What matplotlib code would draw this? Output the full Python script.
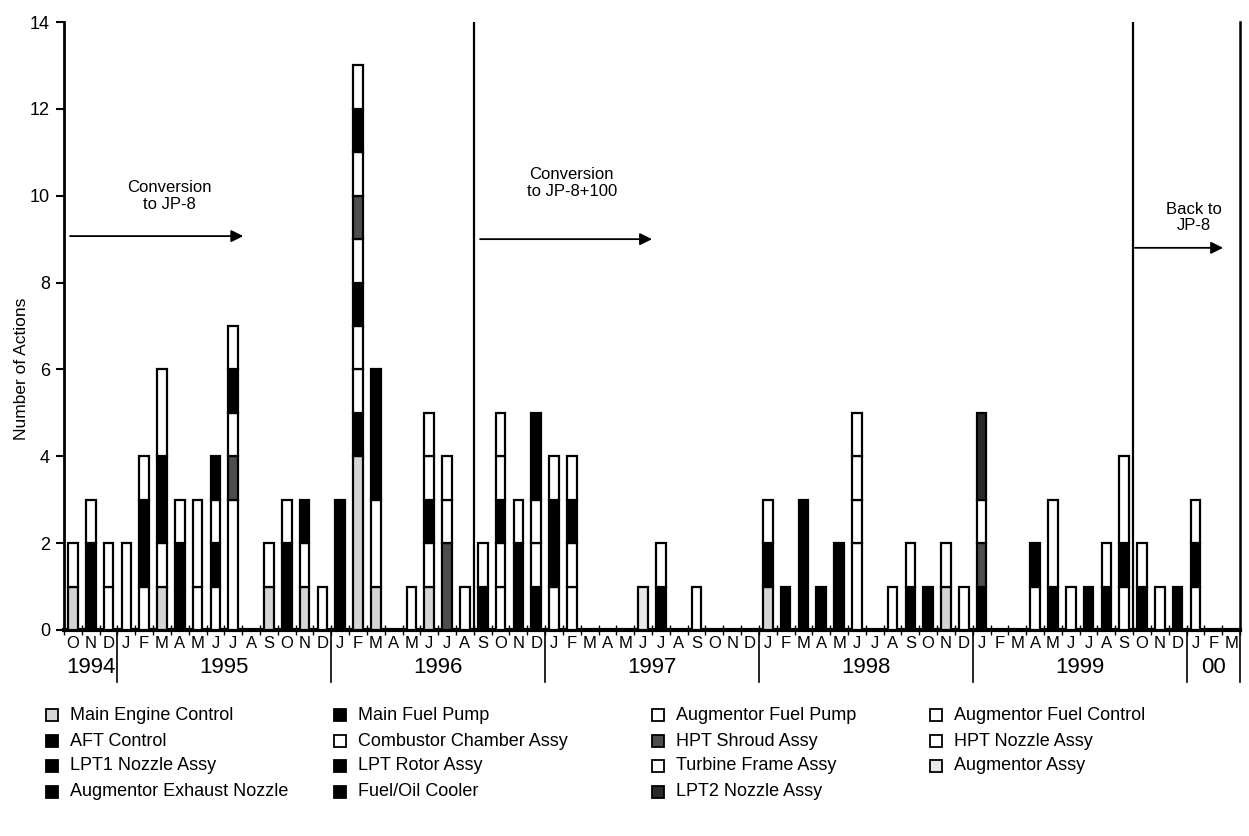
import matplotlib
matplotlib.use("Agg")
import matplotlib.pyplot as plt
from matplotlib.patches import Rectangle
import numpy as np

plt.rcParams['font.family'] = ['Liberation Sans', 'DejaVu Sans']

# ---- data: monthly counts, Oct 1994 .. Mar 2000 (66 months) ----
month_letters = (['O', 'N', 'D'] + list('JFMAMJJASOND') * 5 + ['J', 'F', 'M'])
year_labels = ['1994', '1995', '1996', '1997', '1998', '1999', '00']
year_spans = [(0, 3), (3, 15), (15, 27), (27, 39), (39, 51), (51, 63), (63, 66)]

categories = ['Main Engine Control', 'Main Fuel Pump', 'Augmentor Fuel Pump', 'Augmentor Fuel Control',
              'AFT Control', 'Combustor Chamber Assy', 'HPT Shroud Assy', 'HPT Nozzle Assy',
              'LPT1 Nozzle Assy', 'LPT Rotor Assy', 'Turbine Frame Assy', 'Augmentor Assy',
              'Augmentor Exhaust Nozzle', 'Fuel/Oil Cooler', 'LPT2 Nozzle Assy']

#                 94        1995                         1996                         1997                         1998                         1999                         00
main_engine_control = [1,0,0, 0,0,1,0,0,0,0,0,1,0,1,0, 0,4,1,0,0,1,0,0,0,0,0,0, 0,0,0,0,0,0,0,0,0,0,0,0, 1,0,0,0,0,0,0,0,0,0,1,0, 0,0,0,0,0,0,0,0,0,0,0,0, 0,0,0]
main_fuel_pump      = [0,2,0, 0,0,0,2,0,0,0,0,0,2,0,0, 3,1,0,0,0,0,0,0,1,0,2,1, 0,0,0,0,0,0,1,0,0,0,0,0, 1,1,0,1,0,0,0,0,1,1,0,0, 1,0,0,0,1,0,0,1,0,1,0,0, 0,0,0]
aug_fuel_pump       = [1,1,1, 2,1,1,1,1,1,3,0,1,1,1,1, 0,1,2,0,1,1,0,1,1,1,1,1, 1,1,0,0,0,0,1,0,1,0,0,0, 1,0,0,0,0,2,0,1,1,0,1,1, 0,0,0,1,2,1,0,1,1,1,1,0, 1,0,0]
aug_fuel_control    = [0,0,1, 0,0,0,0,2,0,0,0,0,0,0,0, 0,1,0,0,0,0,0,0,0,1,0,1, 0,1,0,0,0,0,0,0,0,0,0,0, 0,0,0,0,0,1,0,0,0,0,0,0, 0,0,0,0,0,0,0,0,0,0,0,0, 0,0,0]
aft_control         = [0,0,0, 0,2,2,0,0,1,0,0,0,0,1,0, 0,1,3,0,0,1,0,0,0,1,0,2, 2,1,0,0,0,0,0,0,0,0,0,0, 0,0,0,0,0,0,0,0,0,0,0,0, 0,0,0,1,0,0,0,0,1,0,0,0, 1,0,0]
combustor_chamber   = [0,0,0, 0,1,2,0,0,1,0,0,0,0,0,0, 0,1,0,0,0,1,0,0,0,1,0,0, 1,1,0,0,0,0,0,0,0,0,0,0, 0,0,0,0,0,1,0,0,0,0,0,0, 0,0,0,0,0,0,0,0,2,0,0,0, 1,0,0]
hpt_shroud          = [0,0,0, 0,0,0,0,0,0,1,0,0,0,0,0, 0,1,0,0,0,0,2,0,0,0,0,0, 0,0,0,0,0,0,0,0,0,0,0,0, 0,0,0,0,0,0,0,0,0,0,0,0, 1,0,0,0,0,0,0,0,0,0,0,0, 0,0,0]
hpt_nozzle          = [0,0,0, 0,0,0,0,0,0,1,0,0,0,0,0, 0,1,0,0,0,1,1,0,0,1,0,0, 0,0,0,0,0,0,0,0,0,0,0,0, 0,0,0,0,0,1,0,0,0,0,0,0, 1,0,0,0,0,0,0,0,0,0,0,0, 0,0,0]
lpt1_nozzle         = [0,0,0, 0,0,0,0,0,1,1,0,0,0,0,0, 0,1,0,0,0,0,0,0,0,0,0,0, 0,0,0,0,0,0,0,0,0,0,0,0, 0,0,0,0,0,0,0,0,0,0,0,0, 0,0,0,0,0,0,0,0,0,0,0,0, 0,0,0]
lpt_rotor           = [0,0,0, 0,0,0,0,0,0,0,0,0,0,0,0, 0,0,0,0,0,0,0,0,0,0,0,0, 0,0,0,0,0,0,0,0,0,0,0,0, 0,0,3,0,0,0,0,0,0,0,0,0, 0,0,0,0,0,0,0,0,0,0,0,0, 0,0,0]
turbine_frame       = [0,0,0, 0,0,0,0,0,0,1,0,0,0,0,0, 0,1,0,0,0,0,1,0,0,0,0,0, 0,0,0,0,0,0,0,0,0,0,0,0, 0,0,0,0,0,0,0,0,0,0,0,0, 0,0,0,0,0,0,0,0,0,0,0,0, 0,0,0]
augmentor_assy      = [0,0,0, 0,0,0,0,0,0,0,0,0,0,0,0, 0,0,0,0,0,0,0,0,0,0,0,0, 0,0,0,0,0,1,0,0,0,0,0,0, 0,0,0,0,0,0,0,0,0,0,0,0, 0,0,0,0,0,0,0,0,0,0,0,0, 0,0,0]
aug_exhaust_nozzle  = [0,0,0, 0,0,0,0,0,0,0,0,0,0,0,0, 0,0,0,0,0,0,0,0,0,0,0,0, 0,0,0,0,0,0,0,0,0,0,0,0, 0,0,0,0,2,0,0,0,0,0,0,0, 0,0,0,0,0,0,0,0,0,0,0,1, 0,0,0]
fuel_oil_cooler     = [0,0,0, 0,0,0,0,0,0,0,0,0,0,0,0, 0,0,0,0,0,0,0,0,0,0,0,0, 0,0,0,0,0,0,0,0,0,0,0,0, 0,0,0,0,0,0,0,0,0,0,0,0, 0,0,0,0,0,0,1,0,0,0,0,0, 0,0,0]
lpt2_nozzle         = [0,0,0, 0,0,0,0,0,0,0,0,0,0,0,0, 0,0,0,0,0,0,0,0,0,0,0,0, 0,0,0,0,0,0,0,0,0,0,0,0, 0,0,0,0,0,0,0,0,0,0,0,0, 2,0,0,0,0,0,0,0,0,0,0,0, 0,0,0]

series = [main_engine_control, main_fuel_pump, aug_fuel_pump, aug_fuel_control, aft_control,
          combustor_chamber, hpt_shroud, hpt_nozzle, lpt1_nozzle, lpt_rotor, turbine_frame,
          augmentor_assy, aug_exhaust_nozzle, fuel_oil_cooler, lpt2_nozzle]

colors = ['#d4d4d4', 'black', 'white', 'white', 'black', 'white', '#4d4d4d', 'white',
          'black', 'black', 'white', '#e8e8e8', 'black', 'black', '#2a2a2a']

# ---- figure ----
W, H = 1249, 836
fig = plt.figure(figsize=(W / 100, H / 100), dpi=100)
ax = fig.add_axes([64 / W, 1 - 630 / H, (1240 - 64) / W, (630 - 22) / H])

n = len(month_letters)
x = np.arange(n) + 0.5
bottom = np.zeros(n)
for vals, col in zip(series, colors):
    v = np.array(vals, dtype=float)
    m = v > 0
    ax.bar(x[m], v[m], width=0.54, bottom=bottom[m], color=col, edgecolor='black', linewidth=1.6, zorder=3)
    bottom += v

ax.set_xlim(0, n)
ax.set_ylim(0, 14)
ax.set_yticks(range(0, 15, 2))
ax.tick_params(axis='y', labelsize=13, length=6, width=1.5, direction='out', pad=4)
ax.set_xticks(np.arange(n + 1))
ax.set_xticklabels([])
ax.tick_params(axis='x', length=7, width=1, direction='inout')
ax.spines['top'].set_visible(False)
ax.spines['left'].set_linewidth(2)
ax.spines['right'].set_linewidth(1.8)
ax.spines['bottom'].set_linewidth(3)
ax.set_ylabel('Number of Actions', fontsize=12.5)
ax.yaxis.set_label_coords(-0.030, 0.43)

# month letters and years
for i, lab in enumerate(month_letters):
    ax.text(i + 0.5, -0.30, lab, ha='center', va='center', fontsize=12, clip_on=False)
for lab, (a, b) in zip(year_labels, year_spans):
    ax.text((a + b) / 2, -0.86, lab, ha='center', va='center', fontsize=16, clip_on=False)
for a, b in year_spans[1:]:
    ax.plot([a, a], [0, -1.2], color='black', lw=1.2, clip_on=False)
ax.plot([n, n], [0, -1.2], color='black', lw=1.2, clip_on=False)

# fuel change lines
for xv in [23, 60]:
    ax.axvline(xv, color='black', lw=1.6, zorder=4)

# annotations
arrow = dict(arrowstyle='-|>', color='black', lw=1.3, mutation_scale=18, shrinkA=0, shrinkB=0)
ax.annotate('', xy=(10.06, 9.07), xytext=(0.34, 9.07), arrowprops=arrow)
ax.text(5.9, 10.0, 'Conversion\nto JP-8', ha='center', va='center', fontsize=12, linespacing=1.15)
ax.annotate('', xy=(33.0, 9.0), xytext=(23.35, 9.0), arrowprops=arrow)
ax.text(28.5, 10.3, 'Conversion\nto JP-8+100', ha='center', va='center', fontsize=12, linespacing=1.15)
ax.annotate('', xy=(65.05, 8.8), xytext=(60.1, 8.8), arrowprops=arrow)
ax.text(63.4, 9.5, 'Back to\nJP-8', ha='center', va='center', fontsize=12, linespacing=1.15)

# legend (manual, row-major)
lax = fig.add_axes([0, 0, 1, 1])
lax.set_xlim(0, W)
lax.set_ylim(H, 0)
lax.axis('off')
col_x = [46, 334, 652, 930]
row_y = [715, 741, 766, 792]
for i, (cat, col) in enumerate(zip(categories, colors)):
    r, c = divmod(i, 4)
    lax.add_patch(Rectangle((col_x[c], row_y[r] - 6), 12, 12, facecolor=col, edgecolor='black', lw=1.3))
    lax.text(col_x[c] + 24, row_y[r], cat, ha='left', va='center', fontsize=13)

fig.savefig('out.png', dpi=100)
